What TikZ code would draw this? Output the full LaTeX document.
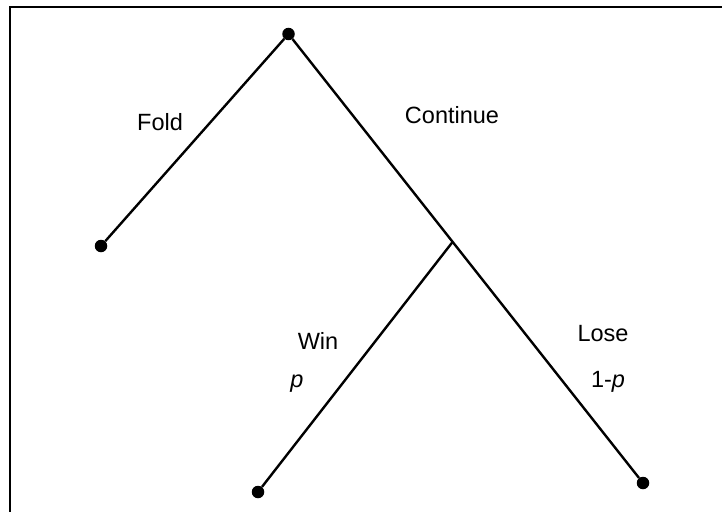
\documentclass[tikz,border=0pt]{standalone}
\usepackage{fontspec}
\setmainfont{Liberation Sans}
\usetikzlibrary{calc}
\begin{document}
\begin{tikzpicture}[x=1pt,y=-1pt,
  dot/.style={circle,fill=black,inner sep=0pt,minimum width=12.5pt,minimum height=11pt},
  branch/.style={line width=2.4pt,black},
  lbl/.style={font=\fontsize{23.5}{28}\selectfont,inner sep=0pt}]
\useasboundingbox (0,0) rectangle (722,511);
\draw[line width=2.6pt] (10,512) -- (10,7) -- (723,7);
\node[dot] (top) at (288.5,34) {};
\node[dot] (fold) at (101,246) {};
\node[dot] (win) at (258,492) {};
\node[dot] (lose) at (643,483) {};
\coordinate (j) at ($(top)!0.463!(lose)$);
\draw[branch] (top) -- (fold);
\draw[branch] (top) -- (j) -- (lose);
\draw[branch] (j) -- (win);
\node[lbl] (lfold) at (160,122) {Fold};
\node[lbl] (lcont) at (452,115) {Continue};
\node[lbl] (lwin) at (318,341) {Win};
\node[lbl] (lp) at (297,384) {\textit{p}};
\node[lbl] (llose) at (603,334) {Lose};
\node[lbl] (l1p) at (608,382) {1-\textit{p}};
\end{tikzpicture}
\end{document}
